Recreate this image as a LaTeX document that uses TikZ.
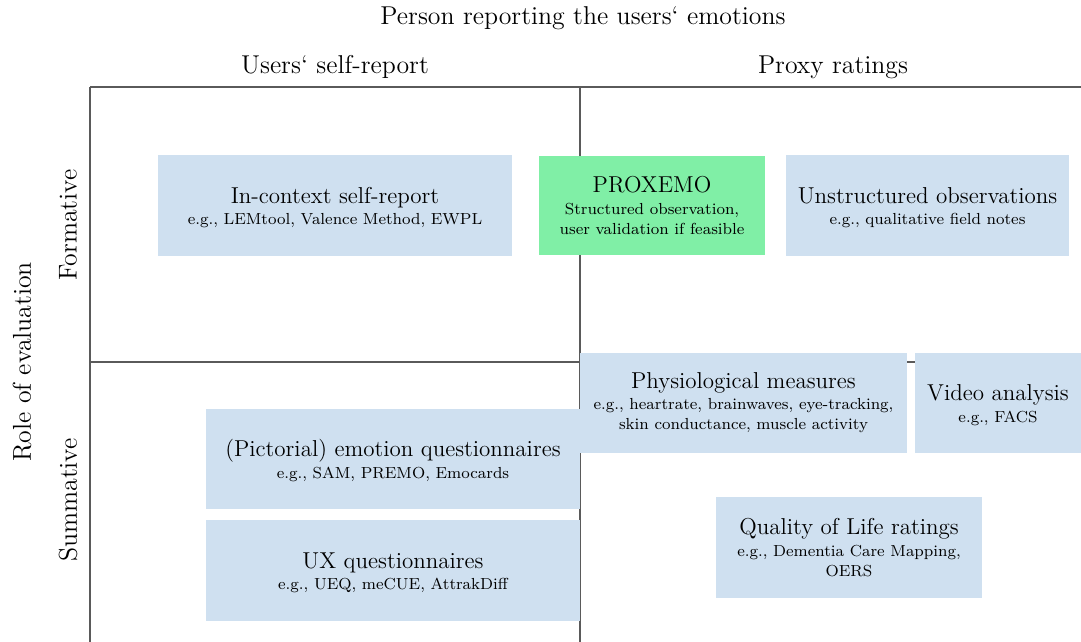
\documentclass[tikz,border=0pt]{standalone}
\usepackage{tikz}
\definecolor{boxblue}{RGB}{207,224,240}
\definecolor{proxgreen}{RGB}{128,239,166}
\definecolor{linegray}{RGB}{90,90,90}
\tikzset{
  box/.style={fill=boxblue, draw=none, inner sep=0pt, align=center},
  gbox/.style={fill=proxgreen, draw=none, inner sep=0pt, align=center},
  axis/.style={draw=linegray, line width=0.6pt},
  lab/.style={font=\fontsize{12.9}{15}\selectfont, inner sep=0pt},
}
\newcommand{\bt}[1]{\rule{0pt}{10pt}{\fontsize{11.5}{14}\selectfont #1}\\[-1.2pt]}
\newcommand{\btt}[1]{{\fontsize{11.5}{14}\selectfont #1}\\[-1.4pt]}
\begin{document}
\begin{tikzpicture}[x=0.5pt, y=-0.5pt]
\useasboundingbox (0,0) rectangle (1081,642);
% grid
\coordinate (tl) at (90,87);
\coordinate (tr) at (1081,87);
\coordinate (bl) at (90,642);
\coordinate (tm) at (580,87);
\coordinate (bm) at (580,642);
\coordinate (ml) at (90,362);
\coordinate (mr) at (1081,362);
\draw[axis] (tl) -- (tr);
\draw[axis] (tl) -- (bl);
\draw[axis] (tm) -- (bm);
\draw[axis] (ml) -- (mr);
% headings
\node[lab] (h0) at (583,18) {Person reporting the users` emotions};
\node[lab] (h1) at (335,67) {Users` self-report};
\node[lab] (h2) at (833,67) {Proxy ratings};
\node[lab, rotate=90] (v0) at (22,362) {Role of evaluation};
\node[lab, rotate=90] (v1) at (68,225) {Formative};
\node[lab, rotate=90] (v2) at (68,500) {Summative};
% boxes
\node[box, minimum width=177pt, minimum height=50.5pt] (ic) at (335,205.5)
  {\bt{In-context self-report}\footnotesize e.g., LEMtool, Valence Method, EWPL};
\node[gbox, minimum width=113pt, minimum height=49.5pt] (px) at (652,205.5)
  {\btt{PROXEMO}\footnotesize Structured observation,\\[-2pt]\footnotesize user validation if feasible};
\node[box, minimum width=141.5pt, minimum height=50.5pt] (un) at (927.5,205.5)
  {\bt{Unstructured observations}\footnotesize e.g., qualitative field notes};
\node[box, minimum width=163.5pt, minimum height=50pt] (ph) at (743.5,403)
  {\btt{Physiological measures}\footnotesize e.g., heartrate, brainwaves, eye-tracking,\\[-2pt]\footnotesize skin conductance, muscle activity};
\node[box, minimum width=83pt, minimum height=50pt] (va) at (998,403)
  {\bt{Video analysis}\footnotesize e.g., FACS};
\node[box, minimum width=187pt, minimum height=50pt] (pe) at (393,459)
  {\bt{(Pictorial) emotion questionnaires}\footnotesize e.g., SAM, PREMO, Emocards};
\node[box, minimum width=187pt, minimum height=50.5pt] (ux) at (393,570.5)
  {\bt{UX questionnaires}\footnotesize e.g., UEQ, meCUE, AttrakDiff};
\node[box, minimum width=133pt, minimum height=50.5pt] (ql) at (849,547.5)
  {\btt{Quality of Life ratings}\footnotesize e.g., Dementia Care Mapping,\\[-2pt]\footnotesize OERS};
\end{tikzpicture}
\end{document}
